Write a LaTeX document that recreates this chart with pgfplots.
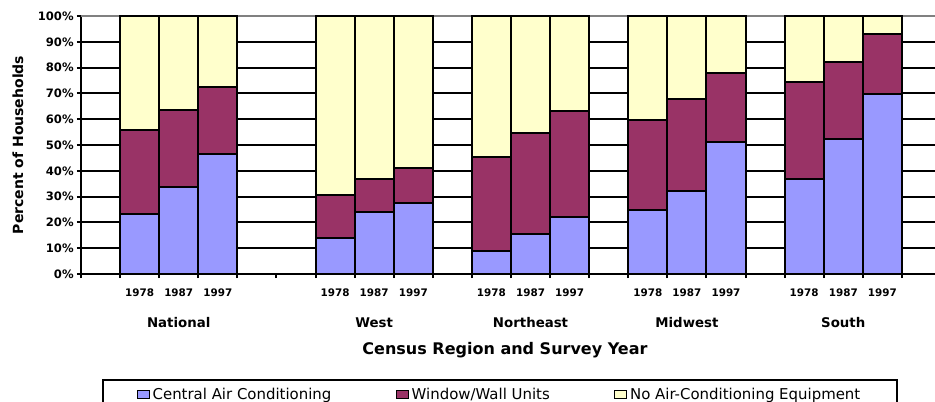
\documentclass[border=0pt]{standalone}
\usepackage{pgfplots}
\pgfplotsset{compat=1.18}
\usepackage{fontspec}
\setmainfont{DejaVu Sans}
\definecolor{cac}{HTML}{9999FF}
\definecolor{wwu}{HTML}{993366}
\definecolor{noac}{HTML}{FFFFCC}
\pgfplotsset{
  sqlegend/.style={legend image code/.code={\draw[#1, line width=0.75pt, draw=black] (0pt,-3pt) rectangle (9pt,3pt);}},
}
\begin{document}
\begin{tikzpicture}
\begin{axis}[
  at={(0,0)}, anchor=south west,
  scale only axis, width=645pt, height=193.5pt,
  xmin=0, xmax=22, ymin=0, ymax=100,
  ybar stacked, bar width=1,
  clip=false,
  axis x line*=bottom, axis y line*=left,
  axis line style={line width=1.5pt, black},
  tick style={black, line width=1.5pt},
  tick align=outside, major tick length=3pt,
  ytick={0,10,...,90},
  yticklabels={0\%,10\%,20\%,30\%,40\%,50\%,60\%,70\%,80\%,90\%},
  extra y ticks={100}, extra y tick labels={100\%},
  extra y tick style={grid style={color=gray, line width=1.5pt}},
  ymajorgrids, grid style={black, line width=1.5pt},
  yticklabel style={font=\fontsize{8.7}{10}\selectfont\bfseries, xshift=1pt},
  xtick={0,...,22}, xticklabels={},
  extra x ticks={1.5,2.5,3.5,6.5,7.5,8.5,10.5,11.5,12.5,14.5,15.5,16.5,18.5,19.5,20.5},
  extra x tick labels={1978,1987,1997,1978,1987,1997,1978,1987,1997,1978,1987,1997,1978,1987,1997},
  extra x tick style={major tick length=0pt,
    xticklabel style={font=\fontsize{7.8}{9}\selectfont\bfseries, anchor=center, yshift=-14.25pt}},
  ylabel={Percent of Households},
  ylabel style={at={(rel axis cs:-0.0733,0.5)}, anchor=center, font=\fontsize{10.5}{12}\selectfont\bfseries},
  xlabel={Census Region and Survey Year},
  xlabel style={at={(rel axis cs:0.493,0)}, anchor=center, yshift=-57pt, font=\fontsize{12}{14}\selectfont\bfseries},
  legend columns=3,
  legend style={at={(0.0244,-0.407)}, anchor=north west, draw=black, line width=1.5pt,
    inner xsep=25.5pt, inner ysep=4pt,
    font=\fontsize{11.2}{13}\selectfont,
    /tikz/every odd column/.append style={column sep=0pt},
    /tikz/every even column/.append style={column sep=46.5pt}},
]
\addplot[fill=cac, draw=black, line width=1.5pt, sqlegend] coordinates {
 (1.5,23.1) (2.5,33.8) (3.5,46.7)
 (6.5,13.8) (7.5,23.9) (8.5,27.4)
 (10.5,9.0) (11.5,15.5) (12.5,22.2)
 (14.5,25.0) (15.5,32.3) (16.5,51.2)
 (18.5,36.8) (19.5,52.3) (20.5,69.7)};
\addplot[fill=wwu, draw=black, line width=1.5pt, sqlegend] coordinates {
 (1.5,32.6) (2.5,29.7) (3.5,25.7)
 (6.5,16.7) (7.5,12.9) (8.5,13.6)
 (10.5,36.2) (11.5,39.2) (12.5,40.8)
 (14.5,34.6) (15.5,35.6) (16.5,26.6)
 (18.5,37.7) (19.5,29.9) (20.5,23.2)};
\addplot[fill=noac, draw=black, line width=1.5pt, sqlegend] coordinates {
 (1.5,44.3) (2.5,36.5) (3.5,27.6)
 (6.5,69.5) (7.5,63.2) (8.5,59.0)
 (10.5,54.8) (11.5,45.3) (12.5,37.0)
 (14.5,40.4) (15.5,32.1) (16.5,22.2)
 (18.5,25.5) (19.5,17.8) (20.5,7.1)};
\legend{Central Air Conditioning, Window/Wall Units, No Air-Conditioning Equipment}
\node[font=\fontsize{10}{12}\selectfont\bfseries, anchor=center] at (axis cs:2.5,0) [yshift=-36.75pt] {National};
\node[font=\fontsize{10}{12}\selectfont\bfseries, anchor=center] at (axis cs:7.5,0) [yshift=-36.75pt] {West};
\node[font=\fontsize{10}{12}\selectfont\bfseries, anchor=center] at (axis cs:11.5,0) [yshift=-36.75pt] {Northeast};
\node[font=\fontsize{10}{12}\selectfont\bfseries, anchor=center] at (axis cs:15.5,0) [yshift=-36.75pt] {Midwest};
\node[font=\fontsize{10}{12}\selectfont\bfseries, anchor=center] at (axis cs:19.5,0) [yshift=-36.75pt] {South};
\end{axis}
\pgfresetboundingbox
\useasboundingbox (-60.75pt,-95.25pt) rectangle (640.5pt,205.5pt);
\end{tikzpicture}
\end{document}
